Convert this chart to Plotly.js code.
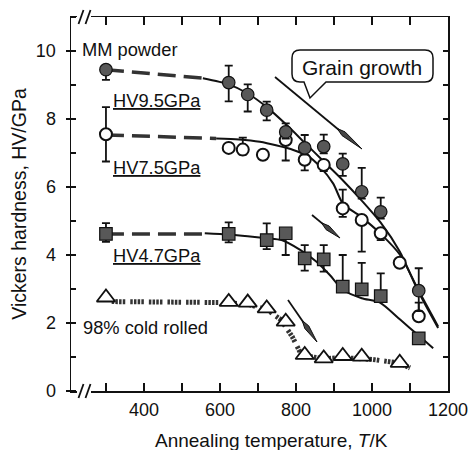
<!DOCTYPE html>
<html>
<head>
<meta charset="utf-8">
<script src="https://cdn.plot.ly/plotly-3.0.1.min.js"></script>
<style>html,body{margin:0;padding:0;background:#fff;}#chart{width:471px;height:450px;}</style>
</head>
<body>
<div id="chart"></div>
<script>
// ---- data ----
// MM powder (filled circles)
const mmT = [300, 623, 673, 723, 773, 823, 873, 923, 973, 1023, 1123];
const mmHV = [9.45, 9.07, 8.72, 8.26, 7.62, 7.15, 7.19, 6.68, 5.86, 5.27, 2.95];
const mmErrPlus = [0, 0.5, 0.3, 0.25, 0.25, 0.38, 0.35, 0.3, 0.7, 0.42, 0.66];
const mmErrMinus = [0.3, 0.55, 0.5, 0.3, 0.2, 0.2, 0.2, 0.35, 0.2, 0.2, 0.6];
const mmDashT = [300, 555];
const mmDashHV = [9.45, 9.2];
const mmFitT = [555, 623, 673, 723, 773, 823, 873, 923, 973, 1023, 1073, 1123, 1174];
const mmFitHV = [9.2, 9.02, 8.75, 8.35, 7.85, 7.3, 6.75, 6.2, 5.6, 4.95, 4.1, 2.9, 1.85];

// HV7.5GPa (open circles)
const ocT = [300, 623, 660, 713, 773, 823, 873, 923, 973, 1023, 1073, 1123];
const ocHV = [7.55, 7.15, 7.1, 6.95, 7.38, 6.8, 6.65, 5.37, 5.03, 4.64, 3.77, 2.2];
const ocErrPlus = [0.8, 0, 0.35, 0, 0.3, 0, 0, 0.55, 0, 0, 0, 0.4];
const ocErrMinus = [0.8, 0, 0.15, 0, 0.6, 0.31, 0.18, 0.25, 0.93, 0.2, 0, 0];
const ocDashT = [300, 590];
const ocDashHV = [7.53, 7.43];
const ocFitT = [590, 650, 705, 750, 793, 830, 863, 898, 924, 968, 1025, 1074, 1123, 1174];
const ocFitHV = [7.43, 7.4, 7.33, 7.22, 7.09, 6.92, 6.6, 6.1, 5.5, 5.15, 4.6, 4.0, 2.95, 1.9];

// HV4.7GPa (filled squares)
const sqT = [300, 623, 723, 773, 823, 873, 923, 973, 1023, 1123];
const sqHV = [4.62, 4.62, 4.44, 4.64, 3.9, 3.87, 3.07, 2.99, 2.79, 1.55];
const sqErrPlus = [0.32, 0.34, 0.49, 0, 0.39, 0.42, 0.93, 0.78, 0.67, 0];
const sqErrMinus = [0.23, 0.25, 0.27, 0.64, 0.36, 0.36, 0, 0, 0, 0];
const sqDashT = [300, 560];
const sqDashHV = [4.62, 4.62];
const sqFitT = [560, 623, 673, 723, 762, 811, 854, 889, 924, 973, 1021, 1074, 1126, 1161];
const sqFitHV = [4.64, 4.6, 4.55, 4.49, 4.44, 4.15, 3.8, 3.41, 2.97, 2.73, 2.6, 2.1, 1.6, 1.26];

// 98% cold rolled (open triangles)
const trT = [300, 623, 673, 723, 773, 823, 873, 923, 973, 1073];
const trHV = [2.75, 2.62, 2.6, 2.43, 2.04, 1.06, 0.96, 1.03, 1.01, 0.83];
const trLineT = [315, 620, 673, 723, 760, 790, 815, 873, 923, 973, 1000, 1073, 1100];
const trLineHV = [2.63, 2.6, 2.55, 2.4, 2.1, 1.6, 1.05, 0.95, 0.98, 0.97, 0.93, 0.82, 0.68];

// labels
const labelTexts = ['MM powder', '<u>HV9.5GPa</u>', '<u>HV7.5GPa</u>', '<u>HV4.7GPa</u>', '98% cold rolled'];
const calloutText = 'Grain growth';
const xTitle = 'Annealing temperature, <i>T</i>/K';
const yTitle = 'Vickers hardness, HV/GPa';

// ---- styling / layout ----
const INK = '#111';
const FILL = '#585858';
const M = {l: 71, r: 23, t: 17, b: 59};
const W = 471, H = 450;
const PW = W - M.l - M.r, PH = H - M.t - M.b;
const px2pap = (px, py) => [(px - M.l) / PW, (H - M.b - py) / PH];

function errObj(p, m) {
  return {type: 'data', symmetric: false, array: p, arrayminus: m, color: INK, thickness: 1.8, width: 4};
}
const dashStyle = {color: '#333', width: 3.5, dash: '18px,8px'};
const fitStyle = {color: INK, width: 2, shape: 'spline', smoothing: 0.7};

const traces = [
  {x: mmDashT, y: mmDashHV, mode: 'lines', line: dashStyle, hoverinfo: 'skip'},
  {x: mmFitT, y: mmFitHV, mode: 'lines', line: fitStyle, hoverinfo: 'skip'},
  {x: ocDashT, y: ocDashHV, mode: 'lines', line: dashStyle, hoverinfo: 'skip'},
  {x: ocFitT, y: ocFitHV, mode: 'lines', line: fitStyle, hoverinfo: 'skip'},
  {x: sqDashT, y: sqDashHV, mode: 'lines', line: dashStyle, hoverinfo: 'skip'},
  {x: sqFitT, y: sqFitHV, mode: 'lines', line: fitStyle, hoverinfo: 'skip'},
  {x: trLineT, y: trLineHV, mode: 'lines', line: {color: '#333', width: 5, dash: '2.5px,1.2px,2.5px,1.2px,2.5px,1.2px,2.5px,5px'}, hoverinfo: 'skip'},
  {x: ocT, y: ocHV, mode: 'markers', error_y: errObj(ocErrPlus, ocErrMinus),
   marker: {symbol: 'circle', size: 12, color: '#fff', line: {color: INK, width: 2}}},
  {x: mmT, y: mmHV, mode: 'markers', error_y: errObj(mmErrPlus, mmErrMinus),
   marker: {symbol: 'circle', size: 12.5, color: FILL, line: {color: INK, width: 1.2}}},
  {x: sqT, y: sqHV, mode: 'markers', error_y: errObj(sqErrPlus, sqErrMinus),
   marker: {symbol: 'square', size: 12.5, color: FILL, line: {color: INK, width: 1.2}}},
  {x: trT, y: trHV, mode: 'markers',
   marker: {symbol: 'triangle-up', size: 16, color: '#fff', line: {color: INK, width: 1.8}}},
  {x: [], y: [], yaxis: 'y2', mode: 'markers', hoverinfo: 'skip'}
];

// annotations
const lab = (text, px, py, size, anchor) => {
  const p = px2pap(px, py);
  return {text: text, xref: 'paper', yref: 'paper', x: p[0], y: p[1], xanchor: anchor || 'left', yanchor: 'middle',
          showarrow: false, font: {size: size || 18.3, color: INK}};
};
const annotations = [
  lab(labelTexts[0], 80, 49),
  lab(labelTexts[1], 111, 100),
  lab(labelTexts[2], 111, 167),
  lab(labelTexts[3], 111, 255),
  lab(labelTexts[4], 81, 327),
  lab(calloutText, 362, 67, 21, 'center'),
  lab(xTitle, 271, 440, 19, 'center')
];

// shapes (callout, arrows, axis breaks)
function pathFrom(pts) {
  return pts.map(q => {
    if (q[0] === 'Z') return 'Z';
    const p = px2pap(q[1], q[2]);
    if (q[0] === 'Q') { const c = px2pap(q[3], q[4]); return 'Q' + p[0] + ',' + p[1] + ' ' + c[0] + ',' + c[1]; }
    return q[0] + p[0] + ',' + p[1];
  }).join(' ');
}
const shapes = [];
{
  const L = 292, R = 433, T = 50, B = 82, r = 8;
  shapes.push({type: 'path', xref: 'paper', yref: 'paper', layer: 'above', fillcolor: '#fff', line: {color: INK, width: 1.5},
    path: pathFrom([['M', L + r, T], ['L', R - r, T], ['Q', R, T, R, T + r], ['L', R, B - r], ['Q', R, B, R - r, B],
                    ['L', 326, B], ['L', 310, 98], ['L', 304, B], ['L', L + r, B], ['Q', L, B, L, B - r],
                    ['L', L, T + r], ['Q', L, T, L + r, T], ['Z']])});
}
function arrow(x0, y0, x1, y1, head, hw) {
  const dx = x1 - x0, dy = y1 - y0, len = Math.hypot(dx, dy);
  const ux = dx / len, uy = dy / len, nx = -uy, ny = ux;
  const bx = x1 - ux * head, by = y1 - uy * head;
  shapes.push({type: 'path', xref: 'paper', yref: 'paper', layer: 'above', line: {color: INK, width: 1.8},
    path: pathFrom([['M', x0, y0], ['L', bx, by]])});
  shapes.push({type: 'path', xref: 'paper', yref: 'paper', layer: 'above', fillcolor: '#444', line: {color: INK, width: 1},
    path: pathFrom([['M', bx + nx * hw, by + ny * hw], ['L', x1, y1], ['L', bx - nx * hw, by - ny * hw],
                    ['L', bx - ux * 8, by - uy * 8], ['Z']])});
}
arrow(275, 77, 362, 149, 24, 2.4);
arrow(312, 215, 340, 238, 16, 2.4);
arrow(288, 300, 317, 342, 18, 2.4);

// axis break marks
function brk(yPix) {
  const a = px2pap(77, yPix), b = px2pap(91, yPix);
  shapes.push({type: 'rect', xref: 'paper', yref: 'paper', layer: 'above', fillcolor: '#fff', line: {width: 0},
    x0: a[0], x1: b[0], y0: a[1] - 3 / PH, y1: a[1] + 3 / PH});
  [81, 88].forEach(x => {
    const p0 = px2pap(x - 2.5, yPix + 7), p1 = px2pap(x + 2.5, yPix - 7);
    shapes.push({type: 'line', xref: 'paper', yref: 'paper', layer: 'above', line: {color: INK, width: 1.8},
      x0: p0[0], y0: p0[1], x1: p1[0], y1: p1[1]});
  });
}
brk(H - M.b);
brk(M.t);

const layout = {
  width: W, height: H, margin: M,
  paper_bgcolor: '#fff', plot_bgcolor: '#fff', showlegend: false,
  font: {family: 'Liberation Sans, Arial, Helvetica, sans-serif', color: INK, size: 18},
  xaxis: {range: [208, 1200], tickmode: 'linear', tick0: 0, dtick: 200, ticks: 'inside', ticklen: 8, tickwidth: 1.5, tickcolor: INK,
          minor: {tickmode: 'linear', tick0: 0, dtick: 100, ticks: 'inside', ticklen: 4, tickwidth: 1.5, tickcolor: INK, showgrid: false},
          showline: true, linewidth: 1.5, linecolor: INK, mirror: 'allticks', showgrid: false, zeroline: false,
          tickfont: {size: 18}, ticklabelstandoff: 2},
  yaxis: {range: [0, 11], tickmode: 'linear', tick0: 0, dtick: 2, ticks: 'outside', ticklen: 4, tickwidth: 1.5, tickcolor: INK,
          minor: {tickmode: 'linear', tick0: 0, dtick: 1, ticks: 'inside', ticklen: 5, tickwidth: 1.5, tickcolor: INK, showgrid: false},
          showline: true, linewidth: 1.5, linecolor: INK, mirror: true, showgrid: false, zeroline: false,
          tickfont: {size: 18}, ticklabelstandoff: 6,
          title: {text: yTitle, font: {size: 19.5}, standoff: 4}},
  yaxis2: {range: [0, 11], overlaying: 'y', side: 'right', tickmode: 'linear', tick0: 0, dtick: 1, ticks: 'inside', ticklen: 5,
           tickwidth: 1.5, tickcolor: INK, showticklabels: false, showgrid: false, zeroline: false, showline: false},
  annotations: annotations,
  shapes: shapes
};

Plotly.newPlot('chart', traces, layout, {displayModeBar: false, staticPlot: true});
</script>
</body>
</html>
